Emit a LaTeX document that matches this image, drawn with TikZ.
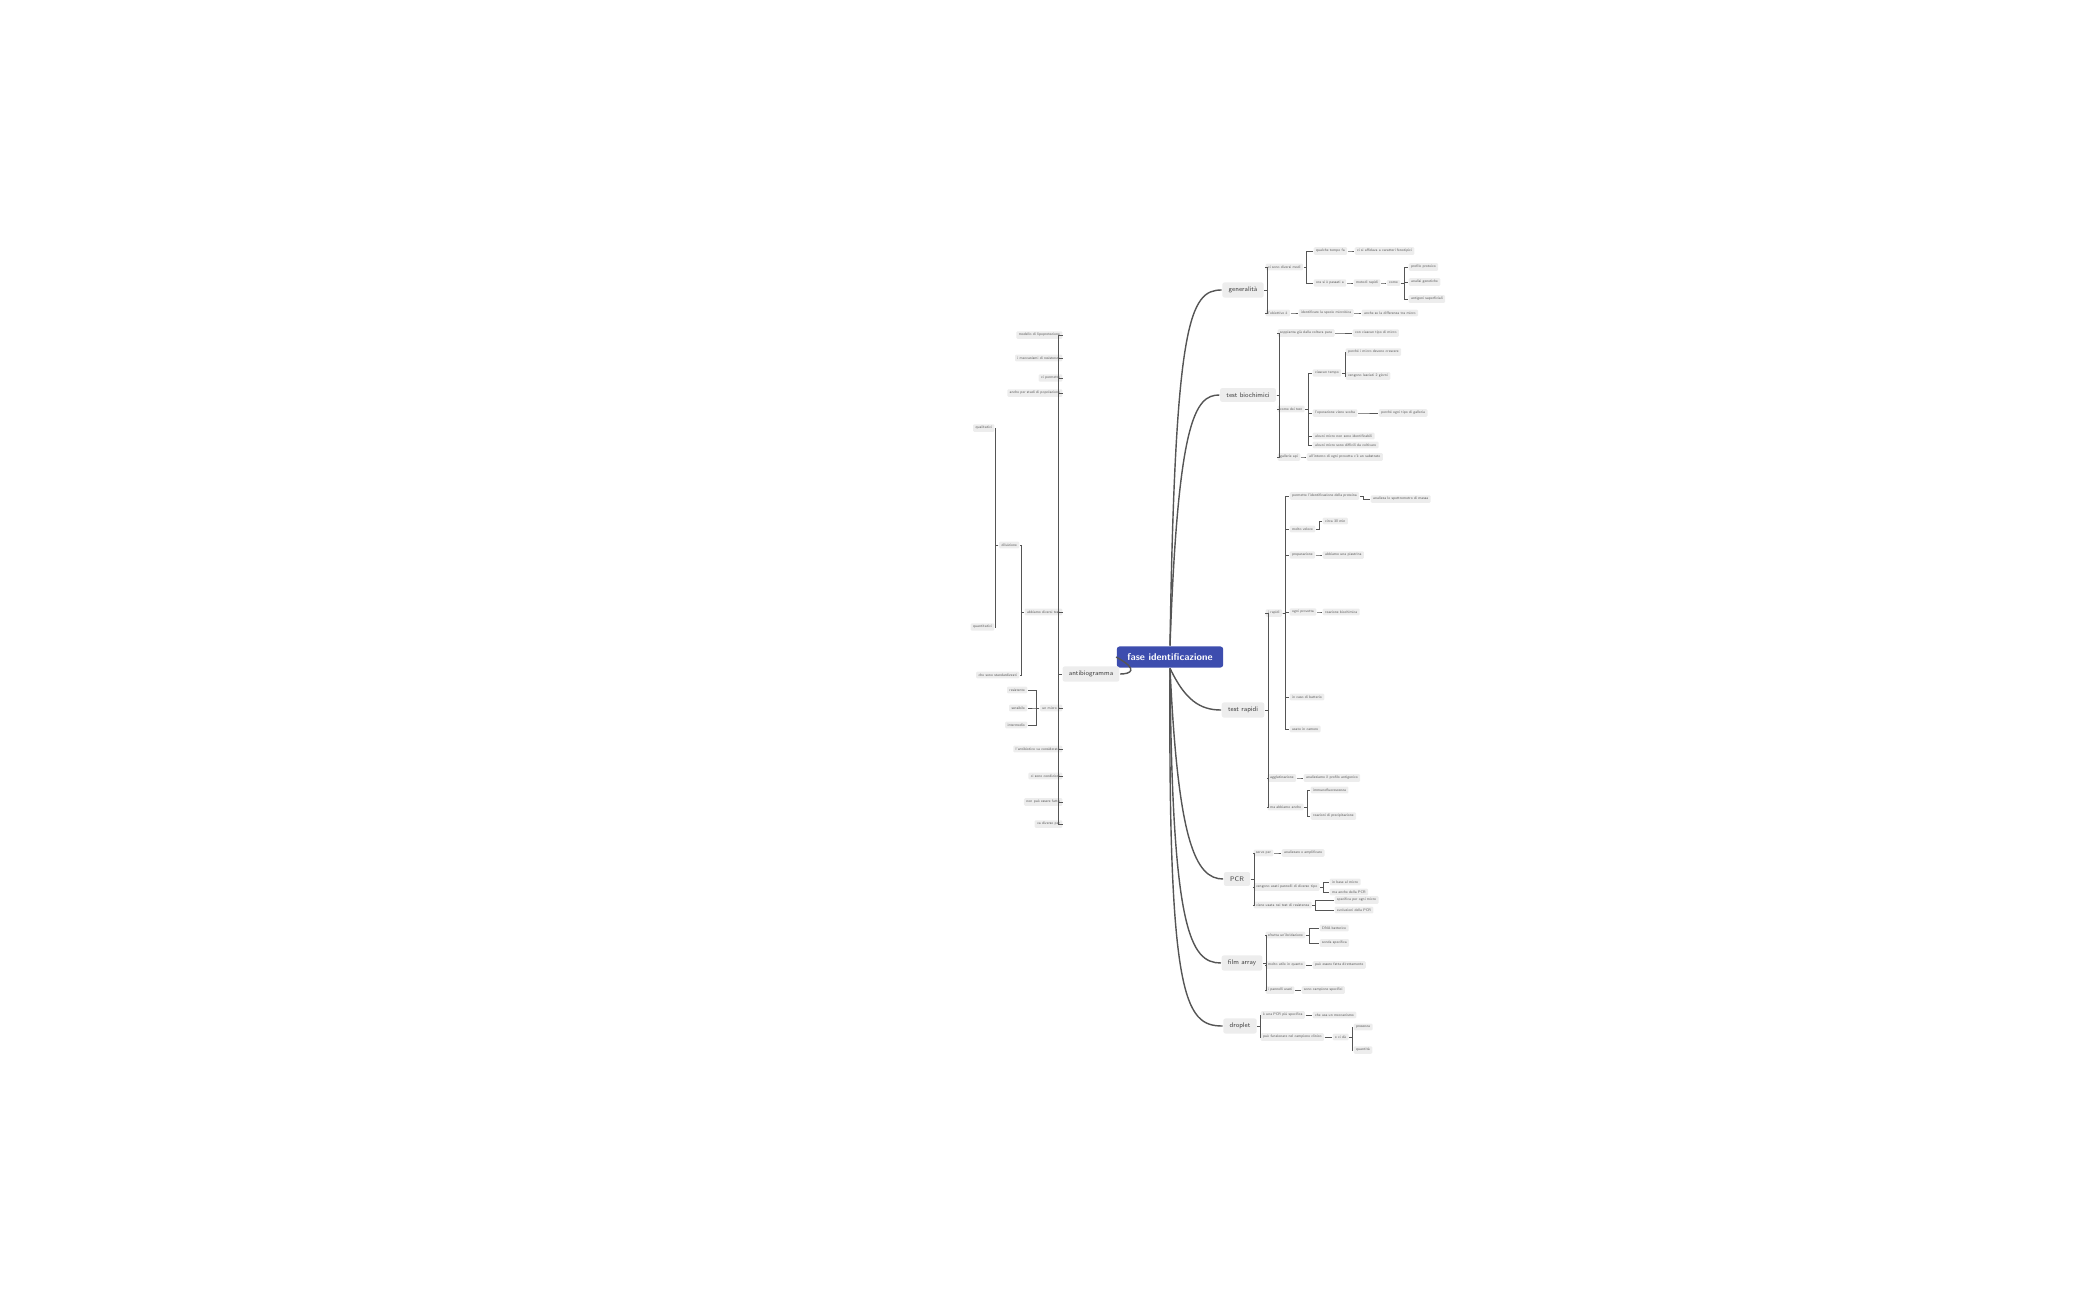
\documentclass[tikz,border=0pt]{standalone}
\usepackage{tikz}
\usetikzlibrary{positioning}
\definecolor{hubblue}{HTML}{3D4DAE}
\definecolor{leafgrey}{HTML}{EDEDED}
\definecolor{linegrey}{HTML}{555555}
\tikzset{
  hub/.style={fill=hubblue, text=white, rounded corners=0.8pt, inner xsep=3pt, inner ysep=2pt, font=\fontsize{2.8}{3.4}\selectfont\sffamily\bfseries},
  main/.style={fill=leafgrey, text=black!75, rounded corners=0.6pt, inner xsep=1.8pt, inner ysep=1.3pt, font=\fontsize{1.9}{2.3}\selectfont\sffamily},
  leaf/.style={fill=leafgrey, text=black!65, rounded corners=0.3pt, inner xsep=0.7pt, inner ysep=0.6pt, font=\fontsize{1.05}{1.3}\selectfont\sffamily},
  bough/.style={draw=linegrey, line width=0.4pt},
  twig/.style={draw=linegrey, line width=0.2pt}
}
\begin{document}
\begin{tikzpicture}[x=0.01cm, y=-0.01cm]
\useasboundingbox (0,0) rectangle (2100,1300);
% centre
\node [hub] (core) at (1170,657) {fase identificazione};
% main branches
\node [main] (gen) at (1243,290) {generalità};
\node [main] (bio) at (1248,395) {test biochimici};
\node [main] (rap) at (1243,710) {test rapidi};
\node [main] (pcr) at (1237,879) {PCR};
\node [main] (film) at (1242,963) {film array};
\node [main] (drop) at (1240,1026) {droplet};
\node [main] (anti) at (1091,674) {antibiogramma};
\draw [bough] (core.north) .. controls (1175,320) and (1190,290) .. (gen.west);
\draw [bough] (core.north) .. controls (1178,420) and (1195,395) .. (bio.west);
\draw [bough] (core.south) .. controls (1185,700) and (1200,710) .. (rap.west);
\draw [bough] (core.south) .. controls (1178,840) and (1195,879) .. (pcr.west);
\draw [bough] (core.south) .. controls (1172,930) and (1190,963) .. (film.west);
\draw [bough] (core.south) .. controls (1168,1000) and (1185,1026) .. (drop.west);
\draw [bough] (core.west) .. controls (1140,670) and (1130,674) .. (anti.east);
% generalita
\node [leaf, anchor=west] (gen1) at (1265,267) {ci sono diversi modi};
\node [leaf, anchor=west] (gen2) at (1265,313) {l'obiettivo è};
\node [leaf, anchor=west] (gen11) at (1313,251) {qualche tempo fa};
\node [leaf, anchor=west] (gen12) at (1313,283) {ora si è passati a};
\node [leaf, anchor=west] (gen111) at (1354,251) {ci si affidava a caratteri fenotipici};
\node [leaf, anchor=west] (gen121) at (1353,283) {metodi rapidi};
\node [leaf, anchor=west] (gen122) at (1386,283) {come};
\node [leaf, anchor=west] (gen1221) at (1408,267) {profilo proteico};
\node [leaf, anchor=west] (gen1222) at (1408,282) {analisi genetiche};
\node [leaf, anchor=west] (gen1223) at (1408,299) {antigeni superficiali};
\node [leaf, anchor=west] (gen21) at (1298,313) {identificare la specie microbica};
\node [leaf, anchor=west] (gen211) at (1361,313) {anche se la differenza tra micro};
% test biochimici
\node [leaf, anchor=west] (bio1) at (1277,333) {soppianta già dalla coltura pura};
\node [leaf, anchor=west] (bio2) at (1277,409) {come dei test};
\node [leaf, anchor=west] (bio3) at (1277,457) {gallerie api};
\node [leaf, anchor=west] (bio11) at (1352,333) {con ciascun tipo di micro};
\node [leaf, anchor=west] (bio21) at (1312,373) {ciascun tempo};
\node [leaf, anchor=west] (bio22) at (1312,413) {l'operazione viene svolta};
\node [leaf, anchor=west] (bio23) at (1312,436) {alcuni micro non sono identificabili};
\node [leaf, anchor=west] (bio24) at (1312,445) {alcuni micro sono difficili da coltivare};
\node [leaf, anchor=west] (bio31) at (1306,457) {all'interno di ogni provetta c'è un substrato};
\node [leaf, anchor=west] (bio211) at (1345,352) {perché i micro devono crescere};
\node [leaf, anchor=west] (bio212) at (1345,376) {vengono lasciati 2 giorni};
\node [leaf, anchor=west] (bio221) at (1378,413) {perché ogni tipo di galleria};
% test rapidi
\node [leaf, anchor=west] (rap0) at (1265,613) {i rapidi};
\node [leaf, anchor=west] (rap1) at (1289,496) {permette l'identificazione della proteina};
\node [leaf, anchor=west] (rap2) at (1289,529) {molto veloce};
\node [leaf, anchor=west] (rap3) at (1289,555) {preparazione};
\node [leaf, anchor=west] (rap4) at (1289,612) {ogni provetta};
\node [leaf, anchor=west] (rap5) at (1289,697) {in caso di batterio};
\node [leaf, anchor=west] (rap6) at (1289,729) {usato in camere};
\node [leaf, anchor=west] (rap7) at (1267,778) {agglutinazione};
\node [leaf, anchor=west] (rap8) at (1267,807) {ma abbiamo anche};
\node [leaf, anchor=west] (rap11) at (1370,499) {analizza lo spettrometro di massa};
\node [leaf, anchor=west] (rap21) at (1322,521) {circa 30 min};
\node [leaf, anchor=west] (rap31) at (1322,555) {abbiamo una piastrina};
\node [leaf, anchor=west] (rap41) at (1322,612) {reazione biochimica};
\node [leaf, anchor=west] (rap71) at (1303,778) {analizziamo il profilo antigenico};
\node [leaf, anchor=west] (rap81) at (1310,790) {immunofluorescenza};
\node [leaf, anchor=west] (rap82) at (1310,816) {reazioni di precipitazione};
% PCR
\node [leaf, anchor=west] (pcr1) at (1253,853) {serve per};
\node [leaf, anchor=west] (pcr2) at (1253,887) {vengono usati pannelli di diverso tipo};
\node [leaf, anchor=west] (pcr3) at (1253,905) {viene usata nei test di resistenza};
\node [leaf, anchor=west] (pcr11) at (1281,853) {analizzare e amplificare};
\node [leaf, anchor=west] (pcr21) at (1329,882) {in base al micro};
\node [leaf, anchor=west] (pcr22) at (1329,892) {ma anche della PCR};
\node [leaf, anchor=west] (pcr31) at (1334,900) {specifica per ogni micro};
\node [leaf, anchor=west] (pcr32) at (1334,910) {evoluzioni della PCR};
% film array
\node [leaf, anchor=west] (film1) at (1265,935) {sfrutta un'ibridazione};
\node [leaf, anchor=west] (film2) at (1265,965) {molto utile in quanto};
\node [leaf, anchor=west] (film3) at (1265,990) {i pannelli usati};
\node [leaf, anchor=west] (film11) at (1319,928) {DNA batterico};
\node [leaf, anchor=west] (film12) at (1319,943) {sonda specifica};
\node [leaf, anchor=west] (film21) at (1312,965) {può essere fatta direttamente};
\node [leaf, anchor=west] (film31) at (1301,990) {sono campione specifici};
% droplet
\node [leaf, anchor=west] (drop1) at (1260,1015) {è una PCR più specifica};
\node [leaf, anchor=west] (drop2) at (1260,1037) {può funzionare nel campione clinico};
\node [leaf, anchor=west] (drop11) at (1312,1015) {che usa un meccanismo};
\node [leaf, anchor=west] (drop21) at (1332,1037) {e ci dà};
\node [leaf, anchor=west] (drop211) at (1353,1027) {presenza};
\node [leaf, anchor=west] (drop212) at (1353,1050) {quantità};
% antibiogramma
\node [leaf, anchor=east] (anti1) at (1063,335) {modello di lipoprotezione};
\node [leaf, anchor=east] (anti2) at (1063,358) {i meccanismi di resistenza};
\node [leaf, anchor=east] (anti3) at (1063,378) {ci permette};
\node [leaf, anchor=east] (anti4) at (1063,393) {anche per studi di popolazione};
\node [leaf, anchor=east] (anti5) at (1063,612) {abbiamo diversi test};
\node [leaf, anchor=east] (anti6) at (1063,708) {un micro è};
\node [leaf, anchor=east] (anti7) at (1063,749) {l'antibiotico va considerato};
\node [leaf, anchor=east] (anti8) at (1063,776) {ci sono condizioni};
\node [leaf, anchor=east] (anti9) at (1063,802) {non può essere fatto};
\node [leaf, anchor=east] (anti10) at (1063,824) {va diverso per};
\node [leaf, anchor=east] (anti51) at (1020,545) {diluizione};
\node [leaf, anchor=east] (anti52) at (1020,675) {che sono standardizzati};
\node [leaf, anchor=east] (anti511) at (995,428) {qualitativi};
\node [leaf, anchor=east] (anti512) at (995,627) {quantitativi};
\node [leaf, anchor=east] (anti61) at (1028,690) {resistente};
\node [leaf, anchor=east] (anti62) at (1028,708) {sensibile};
\node [leaf, anchor=east] (anti63) at (1028,725) {intermedio};
% connectors, right side
\foreach \p/\c in {gen/gen1, gen/gen2, gen1/gen11, gen1/gen12, gen11/gen111, gen12/gen121,
  gen121/gen122, gen122/gen1221, gen122/gen1222, gen122/gen1223, gen2/gen21, gen21/gen211,
  bio/bio1, bio/bio2, bio/bio3, bio1/bio11, bio2/bio21, bio2/bio22, bio2/bio23, bio2/bio24,
  bio3/bio31, bio21/bio211, bio21/bio212, bio22/bio221,
  rap/rap0, rap0/rap1, rap0/rap2, rap0/rap3, rap0/rap4, rap0/rap5, rap0/rap6, rap/rap7, rap/rap8,
  rap1/rap11, rap2/rap21, rap3/rap31, rap4/rap41, rap7/rap71, rap8/rap81, rap8/rap82,
  pcr/pcr1, pcr/pcr2, pcr/pcr3, pcr1/pcr11, pcr2/pcr21, pcr2/pcr22, pcr3/pcr31, pcr3/pcr32,
  film/film1, film/film2, film/film3, film1/film11, film1/film12, film2/film21, film3/film31,
  drop/drop1, drop/drop2, drop1/drop11, drop2/drop21, drop21/drop211, drop21/drop212}
  \draw [twig] (\p.east) -- ++(3,0) |- (\c.west);
% connectors, left side
\foreach \p/\c in {anti/anti1, anti/anti2, anti/anti3, anti/anti4, anti/anti5, anti/anti6,
  anti/anti7, anti/anti8, anti/anti9, anti/anti10, anti5/anti51, anti5/anti52,
  anti51/anti511, anti51/anti512, anti6/anti61, anti6/anti62, anti6/anti63}
  \draw [twig] (\p.west) -- ++(-3,0) |- (\c.east);
\end{tikzpicture}
\end{document}
